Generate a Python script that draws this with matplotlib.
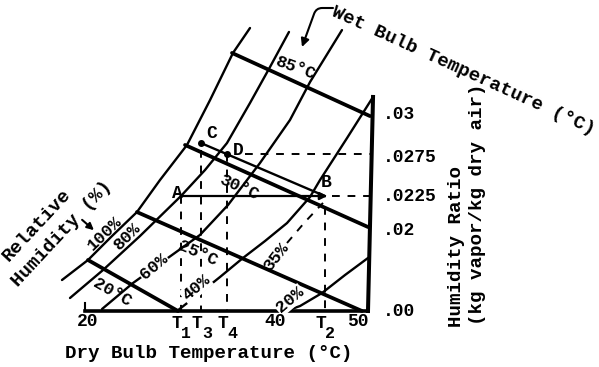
import numpy as np
import matplotlib
matplotlib.use("Agg")
import matplotlib.pyplot as plt
from matplotlib import transforms

# ---------------- data: dry-bulb temperature (deg C) / humidity ratio (kg/kg) ----------------
rh100_T = [17.11, 20.0, 22.67, 25.44, 28.0, 31.0, 33.56, 36.11, 38.0]
rh100_w = [0.00765, 0.01259, 0.01852, 0.02132, 0.02455, 0.0282, 0.03081, 0.03355, 0.0350]

rh80_T = [18.0, 21.67, 25.78, 30.33, 33.0, 35.44, 38.0, 40.22, 42.33]
rh80_w = [0.00321, 0.01012, 0.01852, 0.0225, 0.02583, 0.02831, 0.03064, 0.03273, 0.03477]

rh60_T = [21.56, 25.0, 28.56, 32.44, 35.56, 39.11, 42.44, 44.67, 48.22]
rh60_w = [0.00049, 0.00691, 0.01259, 0.01877, 0.02184, 0.02673, 0.02965, 0.03186, 0.03488]

rh40_T = [29.89, 32.44, 34.67, 37.22, 39.67, 42.11, 44.67, 45.78, 48.78, 51.67]
rh40_w = [0.0, 0.00444, 0.0084, 0.01309, 0.01728, 0.02051, 0.02243, 0.02455, 0.0286, 0.03099]

rh35_T = [42.11, 44.11, 46.11]
rh35_w = [0.01679, 0.02059, 0.02199]

rh20_T = [42.0, 43.56, 46.0, 48.56, 51.11]
rh20_w = [0.0, 0.00123, 0.00444, 0.00889, 0.01309]

wb20_T = [20.0, 30.0]
wb20_w = [0.01259, 0.0]
wb25_T = [25.44, 50.44]
wb25_w = [0.02132, 0.0]
wb30_T = [30.78, 51.11]
wb30_w = [0.0282, 0.02022]
wb35_T = [36.0, 51.33]
wb35_w = [0.03355, 0.02988]

# process states
A_T, A_w = 30.33, 0.0225
B_T, B_w = 46.3, 0.0225
C_T, C_w = 32.6, 0.0283
D_T, D_w = 35.44, 0.0277

axis_T = [19.67, 51.11]
right_T = [51.11, 51.67]
right_w = [0.0, 0.03099]

x_tick_vals = [20, 40, 50]
x_tick_labels = ['20', '40', '50']
y_tick_vals = [0.0, 0.02, 0.0225, 0.0275, 0.03]
y_tick_labels = ['.00', '.02', '.0225', '.0275', '.03']

rh_labels = ['100%', '80%', '60%', '40%', '35%', '20%']
wb_labels = ['20°C', '25°C', '30°C', '85°C']

# non-uniform hand-drawn humidity-ratio axis: value -> drawn height
scale_w = [-0.05, 0.0, 0.02, 0.0225, 0.0275, 0.03, 0.06]
scale_h = [-202.5, 0.0, 81.0, 115.0, 154.0, 197.0, 713.0]


def fwd(w):
    return np.interp(np.asarray(w, dtype=float), scale_w, scale_h)


def inv(h):
    return np.interp(np.asarray(h, dtype=float), scale_h, scale_w)


W, H = 599, 367
fig = plt.figure(figsize=(W / 100, H / 100), dpi=100)
ax = fig.add_axes([0, 0, 1, 1])
ax.set_yscale('function', functions=(fwd, inv))
ax.set_xlim(10.2222, 76.7778)
ax.set_ylim(-0.013827, 0.036628)
ax.axis('off')

K = 'black'
FONT = 'Liberation Mono'
lw_rh, lw_wb, lw_ax, lw_d = 1.7, 2.7, 2.6, 1.4
dash = (0, (4, 4))

# relative humidity curves
for T, w in [(rh100_T, rh100_w), (rh80_T, rh80_w), (rh60_T, rh60_w),
             (rh40_T, rh40_w), (rh20_T, rh20_w)]:
    ax.plot(T, w, color=K, lw=lw_rh, solid_capstyle='round', solid_joinstyle='round')
ax.plot(rh35_T, rh35_w, color=K, lw=lw_d, ls=dash)

# wet bulb lines
for T, w in [(wb20_T, wb20_w), (wb25_T, wb25_w), (wb30_T, wb30_w), (wb35_T, wb35_w)]:
    ax.plot(T, w, color=K, lw=lw_wb, solid_capstyle='round')

# axes
ax.plot(axis_T, [0, 0], color=K, lw=lw_ax)
ax.plot([axis_T[0], axis_T[0]], [0, 0.002], color=K, lw=1.5)
ax.plot(right_T, right_w, color=K, lw=2.9)

# process lines
ax.plot([C_T, B_T], [C_w, B_w], color=K, lw=lw_rh)
ax.annotate('', xy=(B_T + 0.3, B_w), xytext=(A_T, A_w),
            arrowprops=dict(arrowstyle='-|>', color=K, lw=1.6, mutation_scale=11,
                            shrinkA=0, shrinkB=0))
ax.plot([C_T, D_T], [C_w, D_w], 'o', color=K, ms=4)

# dashed construction lines
for T, w in [(A_T, A_w), (C_T, C_w - 0.0004), (D_T, D_w), (B_T, B_w - 0.0008)]:
    ax.plot([T, T], [w, 0], color=K, lw=lw_d, ls=dash)
ax.plot([D_T + 2.0, right_T[1] - 0.2], [D_w, D_w], color=K, lw=lw_d, ls=dash)
ax.plot([B_T + 0.8, right_T[1] - 0.2], [B_w, B_w], color=K, lw=lw_d, ls=dash)


def txt(px, py, s, size=13, rot=0, bbox=False, **kw):
    kwargs = dict(transform=ax.transAxes, fontsize=size, family=FONT, weight='bold',
                  rotation=rot, rotation_mode='anchor', ha='center', va='center', color=K)
    if bbox:
        kwargs['bbox'] = dict(boxstyle='square,pad=0.05', fc='white', ec='none')
    kwargs.update(kw)
    ax.text(px / W, 1 - py / H, s, **kwargs)


# point labels
txt(212, 133, 'C')
txt(238, 150, 'D')
txt(177, 194, 'A')
txt(326, 183, 'B')

# RH labels
txt(105, 233, rh_labels[0], size=12.5, rot=44)
txt(127, 237, rh_labels[1], size=12.5, rot=45)
txt(154, 267, rh_labels[2], size=12.5, rot=40, bbox=True)
txt(196, 288, rh_labels[3], size=12.5, rot=40, bbox=True)
txt(276, 257, rh_labels[4], size=12.5, rot=52)
txt(290, 300, rh_labels[5], size=12.5, rot=40, bbox=True)

# wet bulb labels
txt(112, 292, wb_labels[0], size=12.5, rot=-30)
txt(198, 253, wb_labels[1], size=12.5, rot=-24)
txt(239, 187, wb_labels[2], size=12.5, rot=-24)
txt(295, 68, wb_labels[3], size=12.5, rot=-20)

# titles
txt(209, 353, 'Dry Bulb Temperature (°C)', size=13.8)
txt(457, 327, 'Humidity Ratio', size=13.8, rot=90, ha='left')
txt(478, 325, '(kg vapor/kg dry air)', size=13.8, rot=90, ha='left')
txt(463, 71, 'Wet Bulb Temperature (°C)', size=13.8, rot=-24.5)
txt(37, 225, 'Relative', size=13.8, rot=47)
txt(62, 234, 'Humidity (%)', size=13.8, rot=47)

# arrows for titles
ax.annotate('', xy=(96 / W, 1 - 232 / H), xytext=(80 / W, 1 - 218 / H),
            xycoords='axes fraction', textcoords='axes fraction',
            arrowprops=dict(arrowstyle='-|>', color=K, lw=1.5, mutation_scale=10))
ax.annotate('', xy=(302 / W, 1 - 47 / H), xytext=(333 / W, 1 - 8 / H),
            xycoords='axes fraction', textcoords='axes fraction',
            arrowprops=dict(arrowstyle='-|>', color=K, lw=1.5, mutation_scale=12,
                            connectionstyle='angle,angleA=180,angleB=70,rad=6',
                            shrinkA=0, shrinkB=0))

# x tick labels
xtr = ax.get_xaxis_transform()
for v, s in zip(x_tick_vals, x_tick_labels):
    ax.text(v + (0.8 if v == 40 else 0.0), 1 - 322 / H, s, transform=xtr, fontsize=13,
            family=FONT, weight='bold', ha='center', va='center')
for T, sub in [(A_T, '1'), (C_T, '3'), (D_T, '4'), (B_T, '2')]:
    ax.text(T - 0.45, 1 - 315 / H, 'T', transform=xtr, fontsize=13, family=FONT,
            weight='bold', ha='center', va='top')
    ax.text(T + 0.6, 1 - 333 / H, sub, transform=xtr, fontsize=12, family=FONT,
            weight='bold', ha='center', va='center')

# y tick labels
ytr = transforms.blended_transform_factory(ax.transAxes, ax.transData)
for v, s in zip(y_tick_vals, y_tick_labels):
    ax.text(383 / W, v, s, transform=ytr, fontsize=13, family=FONT, weight='bold',
            ha='left', va='center')

fig.savefig('out.png', dpi=100)
